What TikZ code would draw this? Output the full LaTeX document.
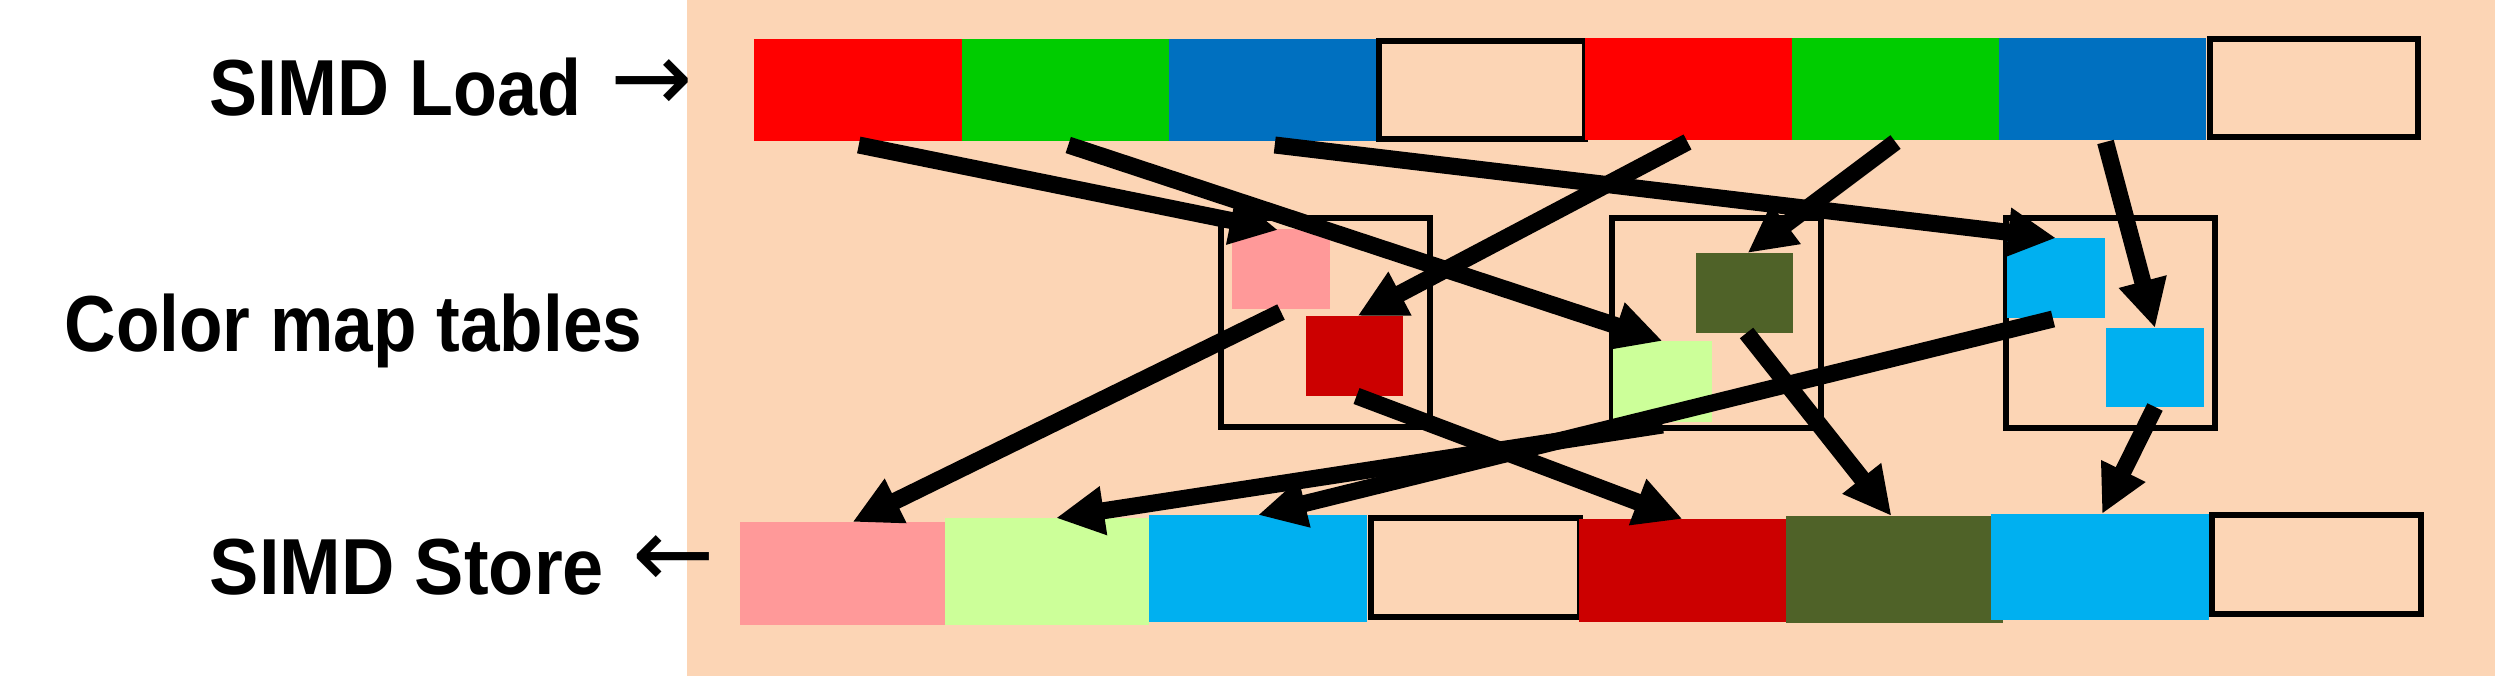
\documentclass[tikz,border=0pt]{standalone}
\usepackage{fontspec}
\usepackage{graphicx}
\setmainfont{Liberation Sans}
\newfontfamily\arrowfont{DejaVu Sans}
\usetikzlibrary{arrows.meta,calc}
\definecolor{peach}{HTML}{FCD5B5}
\definecolor{cred}{HTML}{FF0000}
\definecolor{cgreen}{HTML}{00CC00}
\definecolor{cblue}{HTML}{0070C0}
\definecolor{cpink}{HTML}{FF9999}
\definecolor{clgreen}{HTML}{CCFF99}
\definecolor{ccyan}{HTML}{00B0F0}
\definecolor{cdred}{HTML}{CC0000}
\definecolor{colive}{HTML}{4F6228}
\newcommand\mkcell[6]{\node[#2, anchor=north west, minimum width={(#5-#3)*0.01cm}, minimum height={(#6-#4)*0.01cm}] (#1) at (#3,#4) {};}
\begin{document}
\begin{tikzpicture}[x=0.01cm,y=-0.01cm,
  cell/.style={inner sep=0pt, outer sep=0pt, draw=none},
  emptycell/.style={cell, draw=black, line width=0.065cm},
  tblbox/.style={cell, draw=black, line width=0.055cm},
  lbl/.style={inner sep=0pt, font=\bfseries\fontsize{22.6pt}{27pt}\selectfont},
  glyph/.style={inner sep=0pt, font=\arrowfont\fontsize{28pt}{30pt}\selectfont},
  arr/.style={line width=0.17cm, -{Triangle[length=0.48cm,width=0.46cm]}}]
\useasboundingbox (0,0) rectangle (2495,676);
\fill[white] (0,0) rectangle (2495,676);
\fill[peach] (687,0) rectangle (2495,676);

% labels
\node[lbl, anchor=base west] (load) at (209,115.5) {\scalebox{0.905}[1]{SIMD Load}};
\node[glyph] (loadarr) at (652,86) {→};
\node[lbl, anchor=base west] (cmap) at (64,351) {\scalebox{0.896}[1]{Color map tables}};
\node[lbl, anchor=base west] (store) at (209,594) {\scalebox{0.93}[1]{SIMD Store}};
\node[glyph] (storearr) at (674,562) {←};

% color map tables
\mkcell{T1}{tblbox}{1221}{218}{1430}{427}
\mkcell{T2}{tblbox}{1612}{218}{1821}{428}
\mkcell{T3}{tblbox}{2006}{218}{2215}{428}

% top row
\mkcell{t1}{cell,fill=cred}{754}{39}{961.5}{141}
\mkcell{t2}{cell,fill=cgreen}{961.5}{39}{1169}{141}
\mkcell{t3}{cell,fill=cblue}{1169}{39}{1376.5}{141}
\mkcell{t4}{emptycell}{1379}{41}{1585}{139}
\mkcell{t5}{cell,fill=cred}{1585}{38}{1792}{140}
\mkcell{t6}{cell,fill=cgreen}{1792}{38}{1999}{140}
\mkcell{t7}{cell,fill=cblue}{1999}{38}{2206}{140}
\mkcell{t8}{emptycell}{2210}{39}{2418}{137}

% bottom row
\mkcell{b1}{cell,fill=cpink}{740}{522}{945}{625}
\mkcell{b2}{cell,fill=clgreen}{945}{518}{1149}{625}
\mkcell{b3}{cell,fill=ccyan}{1149}{515}{1367}{622}
\mkcell{b4}{emptycell}{1371}{518}{1580}{617}
\mkcell{b5}{cell,fill=cdred}{1579}{519}{1786}{622}
\mkcell{b6}{cell,fill=colive}{1786}{516}{2003}{623}
\mkcell{b7}{cell,fill=ccyan}{1991}{514}{2209}{620}
\mkcell{b8}{emptycell}{2212}{515}{2421}{614}

% table entries
\mkcell{spk}{cell,fill=cpink}{1232}{229}{1330}{309}
\mkcell{sdr}{cell,fill=cdred}{1306}{316}{1403}{396}
\mkcell{slg}{cell,fill=clgreen}{1613}{341}{1712}{422}
\mkcell{sol}{cell,fill=colive}{1696}{253}{1793}{333}
\mkcell{sca}{cell,fill=ccyan}{2007}{238}{2105}{318}
\mkcell{scb}{cell,fill=ccyan}{2106}{328}{2204}{407}

% load -> table
\draw[arr] ($(t1.south)+(1,4)$) -- ($(spk.north)+(-3,1)$);
\draw[arr] ($(t2.south)+(3,4)$) -- (slg.north);
\draw[arr] ($(t3.south)+(2,4)$) -- (sca.north);
\draw[arr] ($(t5.south)+(-1,2)$) -- ($(sdr.north)+(3,0)$);
\draw[arr] ($(t6.south)+(0,2)$) -- ($(sol.north)+(3,0)$);
\draw[arr] ($(t7.south)+(3,2)$) -- (scb.north);

% table -> store
\draw[arr] ($(spk.south)+(0,3)$) -- ($(b1.north)+(10,0)$);
\draw[arr] ($(sdr.south)+(2,0)$) -- (b5.north);
\draw[arr] ($(sol.south)+(2,0)$) -- ($(b6.north)+(-3,0)$);
\draw[arr] ($(slg.south)+(0,3)$) -- ($(b2.north)+(9,0)$);
\draw[arr] ($(sca.south)+(-3,1)$) -- (b3.north);
\draw[arr] (scb.south) -- ($(b7.north)+(2,0)$);
\end{tikzpicture}
\end{document}
